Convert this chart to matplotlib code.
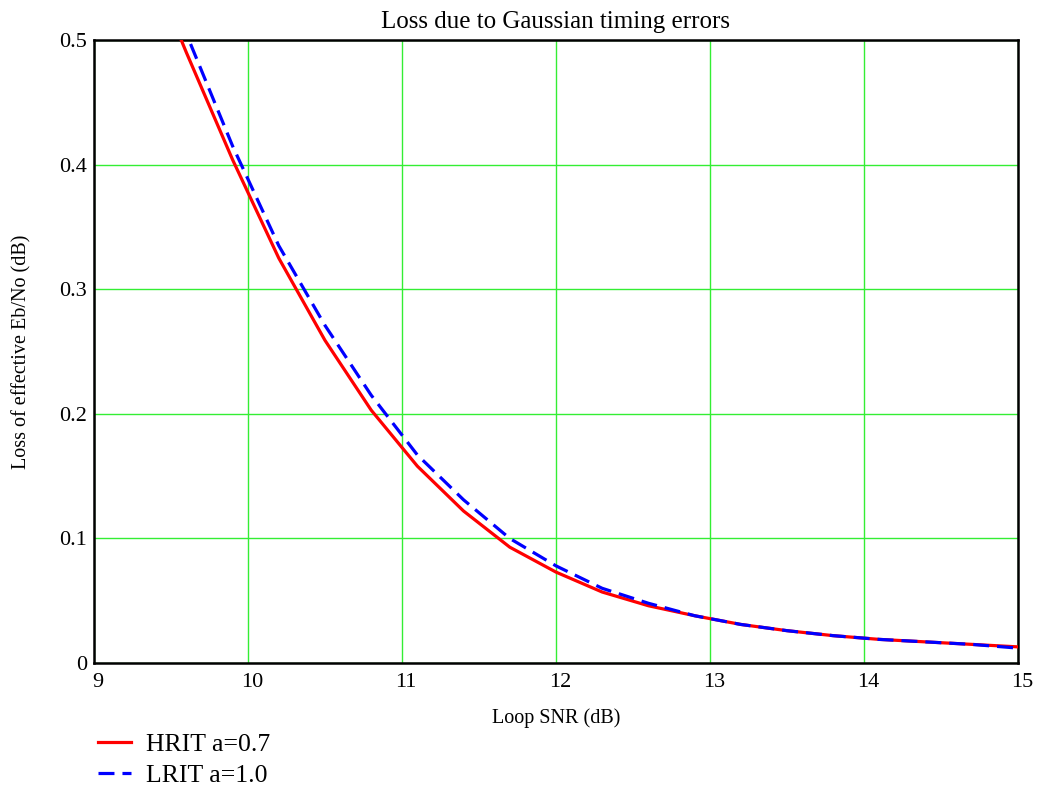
import matplotlib.pyplot as plt
import matplotlib.transforms as mtransforms
import numpy as np

# loop SNR samples (dB)
snr = [9.0, 9.3, 9.6, 9.9, 10.2, 10.5, 10.8, 11.1, 11.4, 11.7, 12.0, 12.3,
       12.6, 12.9, 13.2, 13.5, 13.8, 14.1, 14.4, 14.7, 15.0]
# loss of effective Eb/No (dB)
hrit = [0.70, 0.58, 0.49, 0.404, 0.325, 0.259, 0.203, 0.158, 0.122, 0.093,
        0.073, 0.057, 0.046, 0.038, 0.031, 0.026, 0.022, 0.019, 0.017, 0.015, 0.013]
lrit = [0.73, 0.61, 0.505, 0.415, 0.335, 0.271, 0.215, 0.167, 0.131, 0.100,
        0.078, 0.060, 0.048, 0.038, 0.031, 0.026, 0.022, 0.019, 0.017, 0.015, 0.012]

plt.rcParams['font.family'] = ['Liberation Serif', 'DejaVu Serif']

fig = plt.figure(figsize=(10.37, 7.96), dpi=100)
ax = fig.add_axes([0.0906, 0.167, 0.8911, 0.7827])

ax.plot(snr, hrit, color="#ff0000", lw=2.3, label="HRIT a=0.7", zorder=3)
ax.plot(snr, lrit, color="#0000ff", lw=2.3, dashes=(5, 2.5), label="LRIT a=1.0", zorder=4)

ax.set_xlim(9, 15)
ax.set_ylim(0, 0.5)
ax.set_xticks(np.arange(9, 16, 1))
ax.set_yticks([0, 0.1, 0.2, 0.3, 0.4, 0.5])
ax.set_yticklabels(["0", "0.1", "0.2", "0.3", "0.4", "0.5"])
ax.grid(True, color="#33ee33", lw=1.0)
ax.set_axisbelow(True)
ax.tick_params(length=0, labelsize=16)
ax.tick_params(axis="x", pad=7)
ax.tick_params(axis="y", pad=5)
for s in ax.spines.values():
    s.set_linewidth(1.8)
    s.set_color("black")

# x tick labels sit a little right of their grid line
shift = mtransforms.ScaledTranslation(4 / 100, 0, fig.dpi_scale_trans)
for lab in ax.get_xticklabels():
    lab.set_transform(lab.get_transform() + shift)

ax.set_title("Loss due to Gaussian timing errors", size=18, pad=9)
ax.set_xlabel("Loop SNR (dB)", size=14.5, labelpad=12)
ax.set_ylabel("Loss of effective Eb/No (dB)", size=14.5, labelpad=20)

fig.legend(loc="upper left", bbox_to_anchor=(0.085, 0.092), frameon=False,
           fontsize=18.5, handlelength=1.25, handletextpad=0.6, labelspacing=0.3,
           borderaxespad=0)

fig.savefig("out.png", dpi=100)
